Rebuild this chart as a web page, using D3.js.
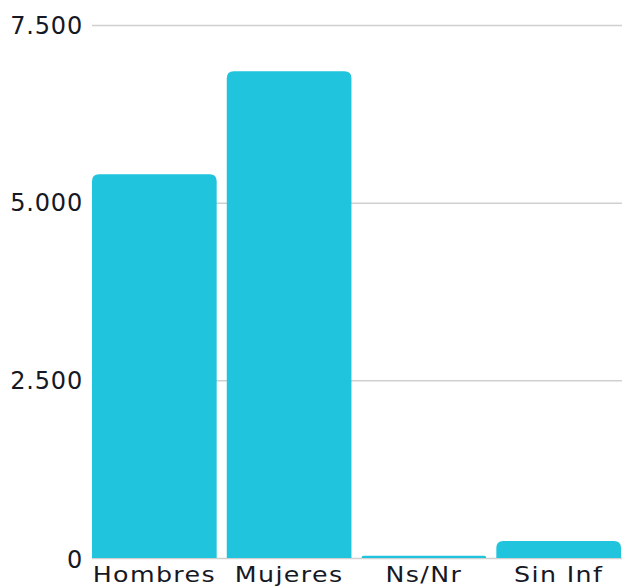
<!DOCTYPE html>
<head>
  <script src="https://d3js.org/d3.v7.min.js"></script>
  <style>
    body { margin: 0; background: #fff; }
    text { font-family: "DejaVu Sans", sans-serif; fill: #161824; }
  </style>
</head>
<body>
  <script type="text/javascript">
    var categories = ["Hombres", "Mujeres", "Ns/Nr", "Sin Inf"];
    var values = [5400, 6850, 30, 240];
    var yTicks = [0, 2500, 5000, 7500];
    var yTickLabels = ["0", "2.500", "5.000", "7.500"];

    var w = 622;
    var h = 587;

    var svg = d3.select("body")
      .append("svg")
      .attr("width", w)
      .attr("height", h);

    var yScale = d3.scaleLinear()
                   .domain([0, 7500])
                   .range([558, 25]);

    var xScale = d3.scaleBand()
                   .domain(categories)
                   .range([92, 621])
                   .paddingInner(0.075)
                   .paddingOuter(0);

    // grid lines
    svg.selectAll("line.grid")
      .data(yTicks)
      .enter()
      .append("line")
      .attr("class", "grid")
      .attr("x1", 92)
      .attr("x2", w)
      .attr("y1", function(d){ return yScale(d) + 0.5; })
      .attr("y2", function(d){ return yScale(d) + 0.5; })
      .attr("stroke", "#d0d0d0")
      .attr("stroke-width", 1.5);

    // y labels
    svg.selectAll("text.ylab")
      .data(yTicks)
      .enter()
      .append("text")
      .attr("class", "ylab")
      .attr("x", 83)
      .attr("y", function(d){ return yScale(d); })
      .attr("dy", function(d){ return d === 0 ? "0.42em" : "0.36em"; })
      .attr("text-anchor", "end")
      .style("font-size", "24px")
      .style("letter-spacing", "0.8px")
      .text(function(d, i){ return yTickLabels[i]; });

    // bars with rounded tops
    function barPath(x, y, bw, bh, r) {
      r = Math.min(r, bh, bw / 2);
      return "M" + x + "," + (y + bh) +
        "V" + (y + r) +
        "Q" + x + "," + y + " " + (x + r) + "," + y +
        "H" + (x + bw - r) +
        "Q" + (x + bw) + "," + y + " " + (x + bw) + "," + (y + r) +
        "V" + (y + bh) + "Z";
    }

    svg.selectAll("path.bar")
      .data(values)
      .enter()
      .append("path")
      .attr("class", "bar")
      .attr("fill", "#20c4dd")
      .attr("d", function(d, i){
        var x = xScale(categories[i]);
        var y = yScale(d);
        return barPath(x, y, xScale.bandwidth(), yScale(0) - y, 7);
      });

    // x labels, stretched a little to match the wide original face
    svg.selectAll("text.xlab")
      .data(categories)
      .enter()
      .append("text")
      .attr("class", "xlab")
      .attr("transform", function(d){
        var cx = xScale(d) + xScale.bandwidth() / 2;
        return "translate(" + cx + ",582) scale(1.15,1)";
      })
      .attr("text-anchor", "middle")
      .style("font-size", "22px")
      .style("letter-spacing", "1.2px")
      .text(function(d){ return d; });
  </script>
</body>
